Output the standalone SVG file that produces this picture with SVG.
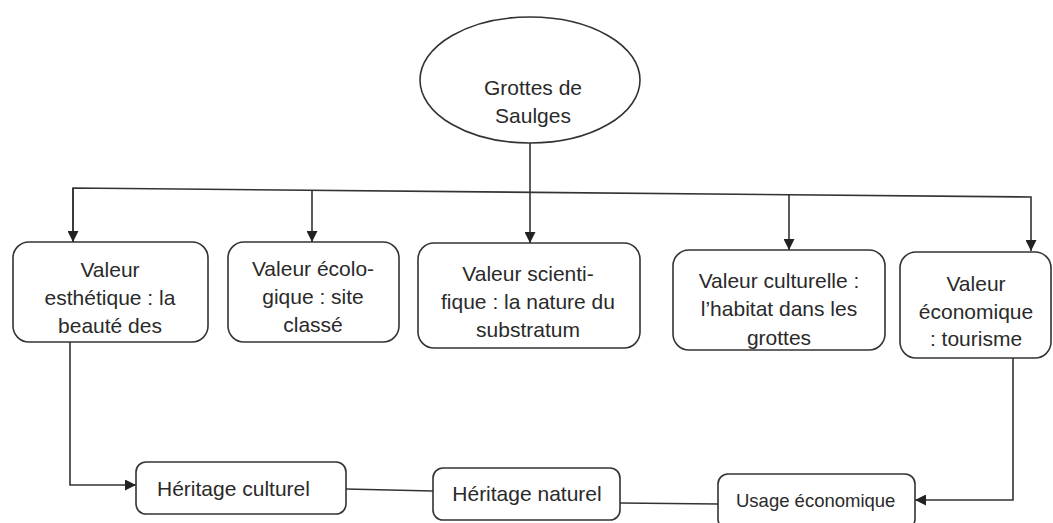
<svg xmlns="http://www.w3.org/2000/svg" width="1053" height="523" viewBox="0 0 1053 523">
<defs>
<marker id="ah" viewBox="0 0 10 10" refX="10" refY="5" markerWidth="11" markerHeight="11" markerUnits="userSpaceOnUse" orient="auto">
<path d="M0,0 L10,5 L0,10 z" fill="#222"/>
</marker>
<clipPath id="clipEll"><ellipse cx="530" cy="80" rx="110" ry="63"/></clipPath>
<clipPath id="clip4"><rect x="673" y="250" width="212" height="100" rx="16"/></clipPath>
</defs>
<style>
.box{fill:#fff;stroke:#333;stroke-width:1.6}
.t{font-family:"Liberation Sans",Arial,sans-serif;font-size:21px;fill:#2a2a2a;text-anchor:middle}
.tl{font-family:"Liberation Sans",Arial,sans-serif;font-size:21px;fill:#2a2a2a}
.c{fill:none;stroke:#333;stroke-width:1.6}
</style>
<rect width="1053" height="523" fill="#fff"/>
<g id="connectors">
<line class="c" x1="530" y1="143" x2="530" y2="243" marker-end="url(#ah)"/>
<polyline class="c" points="73,242 73,188 1031,197 1031,251" marker-end="url(#ah)"/>
<line class="c" x1="73" y1="188" x2="73" y2="242" marker-end="url(#ah)"/>
<line class="c" x1="312" y1="190" x2="312" y2="242" marker-end="url(#ah)"/>
<line class="c" x1="789" y1="195" x2="789" y2="250" marker-end="url(#ah)"/>
<polyline class="c" points="70,342 70,485 136,485" marker-end="url(#ah)"/>
<line class="c" x1="346" y1="489" x2="433" y2="491"/>
<line class="c" x1="620" y1="503" x2="718" y2="504"/>
<polyline class="c" points="1013,358 1013,500 915,500" marker-end="url(#ah)"/>
</g>
<g id="n-grottes">
<ellipse class="box" cx="530" cy="80" rx="110" ry="63"/>
<g clip-path="url(#clipEll)">
<text class="t" x="533" y="95">Grottes de</text>
<text class="t" x="533" y="123">Saulges</text>
</g>
</g>
<g id="n-esthetique">
<rect class="box" x="13" y="242" width="195" height="100" rx="16"/>
<text class="t" x="110" y="277">Valeur</text>
<text class="t" x="110" y="305">esthétique : la</text>
<text class="t" x="110" y="333">beauté des</text>
</g>
<g id="n-ecologique">
<rect class="box" x="228" y="242" width="171" height="100" rx="16"/>
<text class="t" x="313" y="276">Valeur écolo-</text>
<text class="t" x="313" y="304">gique : site</text>
<text class="t" x="313" y="332">classé</text>
</g>
<g id="n-scientifique">
<rect class="box" x="418" y="243" width="222" height="105" rx="16"/>
<text class="t" x="528" y="281">Valeur scienti-</text>
<text class="t" x="528" y="309">fique : la nature du</text>
<text class="t" x="528" y="337">substratum</text>
</g>
<g id="n-culturelle">
<rect class="box" x="673" y="250" width="212" height="100" rx="16"/>
<g clip-path="url(#clip4)">
<text class="t" x="779" y="288">Valeur culturelle :</text>
<text class="t" x="779" y="316">l’habitat dans les</text>
<text class="t" x="779" y="345">grottes</text>
</g>
</g>
<g id="n-economique">
<rect class="box" x="900" y="252" width="151" height="106" rx="16"/>
<text class="t" x="976" y="291">Valeur</text>
<text class="t" x="976" y="319">économique</text>
<text class="t" x="976" y="346">: tourisme</text>
</g>
<g id="n-heritage-culturel">
<rect class="box" x="136" y="462" width="210" height="52" rx="10"/>
<text class="tl" x="157" y="496">Héritage culturel</text>
</g>
<g id="n-heritage-naturel">
<rect class="box" x="433" y="468" width="187" height="52" rx="10"/>
<text class="t" x="527" y="501">Héritage naturel</text>
</g>
<g id="n-usage">
<rect class="box" x="718" y="474" width="197" height="55" rx="10"/>
<text class="tl" x="736" y="507" style="font-size:18.5px">Usage économique</text>
</g>
</svg>
